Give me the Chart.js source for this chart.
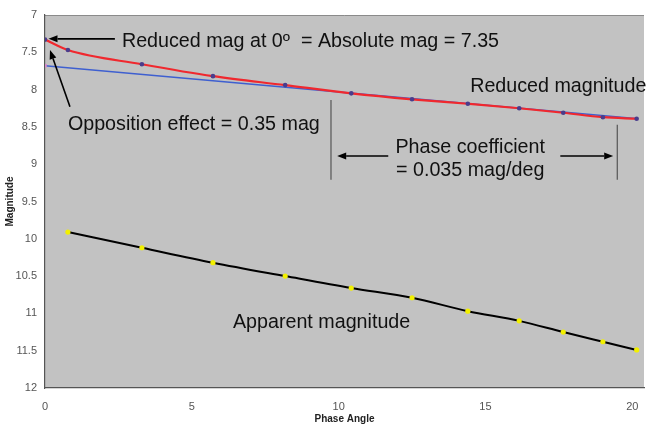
<!DOCTYPE html>
<html>
<head>
<meta charset="utf-8">
<script src="https://cdn.jsdelivr.net/npm/chart.js@4/dist/chart.umd.min.js"></script>
<style>
  html, body { margin: 0; padding: 0; background: #fff; }
  #wrap { width: 648px; height: 425px; }
</style>
</head>
<body>
<div id="wrap"><canvas id="cv" width="648" height="425"></canvas></div>
<script>
// --- data ---
const phaseAngle  = [0.78, 3.3, 5.72, 8.18, 10.43, 12.5, 14.4, 16.15, 17.65, 19.0, 20.15];
const apparentMag = [9.91, 10.12, 10.32, 10.50, 10.66, 10.79, 10.97, 11.10, 11.25, 11.38, 11.49];
const reducedMag  = [7.47, 7.66, 7.82, 7.94, 8.05, 8.13, 8.19, 8.25, 8.31, 8.37, 8.39];
const reducedAtZero = 7.33;
const fitAngle = [0, 20.2];
const fitMag   = [7.68, 8.39];
const xTicks = [0, 5, 10, 15, 20];
const yTicks = [7, 7.5, 8, 8.5, 9, 9.5, 10, 10.5, 11, 11.5, 12];

const toPts = (xs, ys) => xs.map((x, i) => ({ x: x, y: ys[i] }));

// annotations, placed in data units
const labels = [
  { text: "Reduced mag at 0º  = Absolute mag = 7.35", x: 2.62, y: 7.35 },
  { text: "Opposition effect = 0.35 mag", x: 0.78, y: 8.47 },
  { text: "Reduced magnitude", x: 14.48, y: 7.96 },
  { text: "Phase coefficient", x: 14.48, y: 8.78, center: true },
  { text: "= 0.035 mag/deg", x: 14.48, y: 9.08, center: true },
  { text: "Apparent magnitude", x: 6.4, y: 11.12 }
];
const arrows = [
  { from: [2.38, 7.32], to: [0.12, 7.32] },
  { from: [0.85, 8.23], to: [0.17, 7.47] },
  { from: [11.69, 8.89], to: [9.95, 8.89] },
  { from: [17.55, 8.89], to: [19.35, 8.89] }
];
const bars = [
  { x: 9.74, y1: 8.14, y2: 9.21 },
  { x: 19.49, y1: 8.47, y2: 9.21 }
];

const plotBg = {
  id: "plotBg",
  beforeDraw(chart) {
    const { ctx, chartArea: a } = chart;
    ctx.save();
    ctx.fillStyle = "#c2c2c2";
    ctx.fillRect(a.left, a.top, a.right - a.left, a.bottom - a.top);
    ctx.strokeStyle = "#8a8a8a";
    ctx.lineWidth = 1;
    ctx.beginPath();
    ctx.moveTo(a.left, a.top + 0.5);
    ctx.lineTo(a.right, a.top + 0.5);
    ctx.stroke();
    ctx.restore();
  }
};

const notes = {
  id: "notes",
  afterDatasetsDraw(chart) {
    const ctx = chart.ctx;
    const sx = chart.scales.x, sy = chart.scales.y;
    const X = v => sx.getPixelForValue(v), Y = v => sy.getPixelForValue(v);
    ctx.save();
    ctx.fillStyle = "#111";
    ctx.font = "19.7px 'Liberation Sans', Arial, sans-serif";
    ctx.textBaseline = "middle";
    labels.forEach(l => {
      ctx.textAlign = l.center ? "center" : "left";
      ctx.fillText(l.text, X(l.x), Y(l.y));
    });
    ctx.strokeStyle = "#555";
    ctx.lineWidth = 1.2;
    bars.forEach(b => {
      ctx.beginPath();
      ctx.moveTo(X(b.x), Y(b.y1));
      ctx.lineTo(X(b.x), Y(b.y2));
      ctx.stroke();
    });
    ctx.strokeStyle = "#000";
    ctx.lineWidth = 1.6;
    arrows.forEach(ar => {
      const x1 = X(ar.from[0]), y1 = Y(ar.from[1]);
      const x2 = X(ar.to[0]), y2 = Y(ar.to[1]);
      const ang = Math.atan2(y2 - y1, x2 - x1);
      const hl = 9, hw = 3.5;
      const bx = x2 - hl * Math.cos(ang), by = y2 - hl * Math.sin(ang);
      ctx.beginPath();
      ctx.moveTo(x1, y1);
      ctx.lineTo(bx, by);
      ctx.stroke();
      ctx.beginPath();
      ctx.moveTo(x2, y2);
      ctx.lineTo(bx + hw * Math.sin(ang), by - hw * Math.cos(ang));
      ctx.lineTo(bx - hw * Math.sin(ang), by + hw * Math.cos(ang));
      ctx.closePath();
      ctx.fillStyle = "#000";
      ctx.fill();
    });
    ctx.restore();
  }
};

const tickFont = { family: "'Liberation Sans', Arial, sans-serif", size: 11 };
const titleFont = { family: "'Liberation Sans', Arial, sans-serif", size: 10, weight: "bold" };

new Chart(document.getElementById("cv"), {
  type: "scatter",
  data: {
    datasets: [
      {
        label: "Linear fit",
        data: toPts(fitAngle, fitMag),
        showLine: true,
        borderColor: "#3e5fd0",
        borderWidth: 1.5,
        pointRadius: [2.5, 0],
        pointStyle: "rect",
        pointBackgroundColor: "#d88ac8",
        pointBorderWidth: 0,
        order: 3
      },
      {
        label: "Reduced magnitude",
        data: [{ x: 0, y: reducedAtZero }].concat(toPts(phaseAngle, reducedMag)),
        showLine: true,
        borderColor: "#f0282e",
        borderWidth: 2.2,
        cubicInterpolationMode: "monotone",
        pointRadius: 2.3,
        pointBackgroundColor: "#4a3c8c",
        pointBorderWidth: 0,
        order: 2
      },
      {
        label: "Apparent magnitude",
        data: toPts(phaseAngle, apparentMag),
        showLine: true,
        borderColor: "#000",
        borderWidth: 2,
        cubicInterpolationMode: "monotone",
        pointRadius: 2.6,
        pointBackgroundColor: "#f2f000",
        pointBorderWidth: 0,
        order: 1
      }
    ]
  },
  options: {
    responsive: false,
    animation: false,
    layout: { padding: { top: 15, right: 0, left: 0, bottom: 0 } },
    plugins: { legend: { display: false }, tooltip: { enabled: false } },
    scales: {
      x: {
        type: "linear",
        min: 0,
        max: 20.4,
        afterBuildTicks: s => { s.ticks = xTicks.map(v => ({ value: v })); },
        afterFit: s => { s.height = 37; },
        ticks: { font: tickFont, color: "#555", padding: 4, callback: v => String(v) },
        grid: { display: false },
        border: { color: "#555", width: 1.2 },
        title: { display: true, text: "Phase Angle", font: titleFont, color: "#222", padding: { top: 0, bottom: 0 } }
      },
      y: {
        type: "linear",
        reverse: true,
        min: 7,
        max: 12,
        afterBuildTicks: s => { s.ticks = yTicks.map(v => ({ value: v })); },
        afterFit: s => { s.width = 45; },
        ticks: { font: tickFont, color: "#555", padding: 0, callback: v => String(v) },
        grid: { display: false },
        border: { color: "#555", width: 1.2 },
        title: { display: true, text: "Magnitude", font: titleFont, color: "#222", padding: { top: 4, bottom: 0 } }
      }
    }
  },
  plugins: [plotBg, notes]
});
</script>
</body>
</html>
